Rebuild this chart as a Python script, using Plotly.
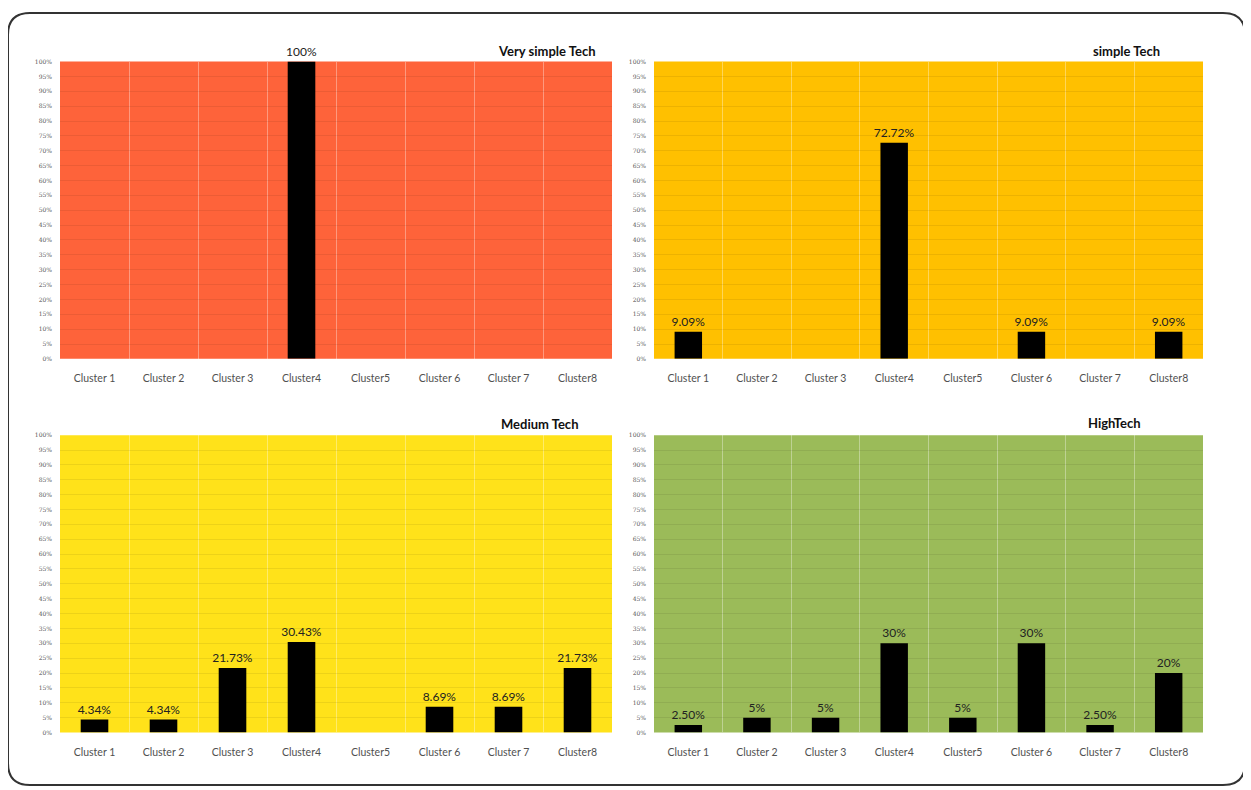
import plotly.graph_objects as go

# page is rendered with an 8px body margin; lay out in page pixels and shift
OFF = 8
W, H = 1251 - OFF, 790 - OFF

categories = ["Cluster 1", "Cluster 2", "Cluster 3", "Cluster4", "Cluster5", "Cluster 6", "Cluster 7", "Cluster8"]

panel_titles = ["Very simple Tech", "simple Tech", "Medium Tech", "HighTech"]

very_simple = [0, 0, 0, 1.00, 0, 0, 0, 0]
very_simple_text = ["", "", "", "100%", "", "", "", ""]

simple = [0.0909, 0, 0, 0.7272, 0, 0.0909, 0, 0.0909]
simple_text = ["9.09%", "", "", "72.72%", "", "9.09%", "", "9.09%"]

medium = [0.0434, 0.0434, 0.2173, 0.3043, 0, 0.0869, 0.0869, 0.2173]
medium_text = ["4.34%", "4.34%", "21.73%", "30.43%", "", "8.69%", "8.69%", "21.73%"]

high = [0.025, 0.05, 0.05, 0.30, 0.05, 0.30, 0.025, 0.20]
high_text = ["2.50%", "5%", "5%", "30%", "5%", "30%", "2.50%", "20%"]

series = [very_simple, simple, medium, high]
texts = [very_simple_text, simple_text, medium_text, high_text]
bg_colors = ["#FE633A", "#FFC000", "#FFE21A", "#9BBB59"]

# page-pixel boxes of plot areas (left, right, top, bottom)
boxes = [(60, 612, 58, 358), (654, 1203, 58, 358), (60, 612, 435, 735), (654, 1203, 435, 735)]
# page-pixel right end and vertical center of each title
title_pos = [(597, 47), (1162, 47), (580, 424), (1143, 423)]


def fx(x):
    return (x - OFF) / W


def fy(y):
    return 1 - (y - OFF) / H


FONT = "Lato"
fig = go.Figure()
layout = dict(
    width=W, height=H, margin=dict(l=0, r=0, t=0, b=0),
    paper_bgcolor="white", plot_bgcolor="rgba(0,0,0,0)",
    showlegend=False, bargap=0.6, font=dict(family=FONT),
)
shapes = []
annotations = []
for i in range(4):
    n = "" if i == 0 else str(i + 1)
    l, r, t, b = boxes[i]
    fig.add_trace(go.Bar(
        x=categories, y=series[i], text=texts[i], textposition="outside",
        textfont=dict(size=12, color="#222222", family=FONT),
        marker=dict(color="black", line=dict(width=0)),
        cliponaxis=False, constraintext="none",
        xaxis="x" + n, yaxis="y" + n,
    ))
    layout["xaxis" + n] = dict(
        domain=[fx(l), fx(r)], anchor="y" + n, type="category", tickson="boundaries",
        showgrid=True, gridcolor="rgba(255,255,255,0.35)", gridwidth=1,
        showline=False, zeroline=False, ticks="", ticklabelstandoff=12,
        tickfont=dict(size=10.5, color="#505050", family=FONT),
        categoryorder="array", categoryarray=categories,
    )
    layout["yaxis" + n] = dict(
        domain=[fy(b), fy(t)], anchor="x" + n, range=[0, 1], dtick=0.05, tickformat=".0%",
        showgrid=True, gridcolor="rgba(0,0,0,0.07)", gridwidth=1,
        zeroline=False, showline=False, ticks="", ticklabelstandoff=7,
        tickfont=dict(size=6, color="#555555", family="DejaVu Serif"),
    )
    shapes.append(dict(
        type="rect", xref="x" + n + " domain", yref="y" + n + " domain",
        x0=0, x1=1, y0=0, y1=1, fillcolor=bg_colors[i], line=dict(width=0),
        layer="below",
    ))
    tx, ty = title_pos[i]
    annotations.append(dict(
        text="<b>" + panel_titles[i] + "</b>", xref="paper", yref="paper",
        x=fx(tx), y=fy(ty), xanchor="right", yanchor="middle",
        showarrow=False, font=dict(size=13, color="#111111", family=FONT),
    ))

# rounded outer frame (page pixels)
x0, x1, y0, y1, rad = 8, 1245, 9, 788, 22


def p(x, y):
    return f"{fx(x):.5f},{fy(y):.5f}"


path = (f"M {p(x0 + rad, y0)} L {p(x1 - rad, y0)} Q {p(x1, y0)} {p(x1, y0 + rad)} "
        f"L {p(x1, y1 - rad)} Q {p(x1, y1)} {p(x1 - rad, y1)} "
        f"L {p(x0 + rad, y1)} Q {p(x0, y1)} {p(x0, y1 - rad)} "
        f"L {p(x0, y0 + rad)} Q {p(x0, y0)} {p(x0 + rad, y0)} Z")
shapes.append(dict(type="path", xref="paper", yref="paper", path=path,
                   line=dict(color="#333333", width=2), layer="above"))

layout["shapes"] = shapes
layout["annotations"] = annotations
fig.update_layout(**layout)
fig.write_html("out.html")
